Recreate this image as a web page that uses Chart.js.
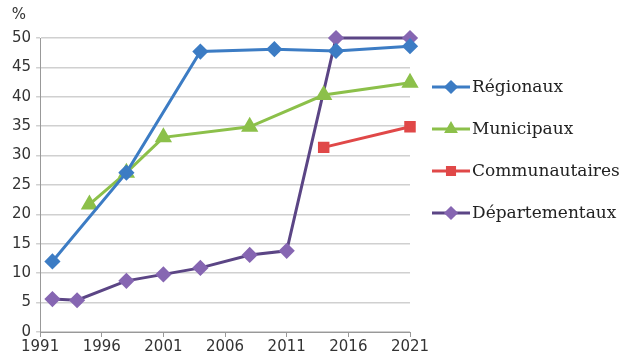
<!DOCTYPE html>
<html>
<head>
<meta charset="utf-8">
<script src="https://cdn.jsdelivr.net/npm/chart.js@4/dist/chart.umd.min.js"></script>
<style>
  html, body { margin: 0; padding: 0; background: #fff; }
  #wrap { width: 628px; height: 360px; }
</style>
</head>
<body>
<div id="wrap"><canvas id="elusChart" width="628" height="360"></canvas></div>
<script>
// values (share of women, %)
const regYears = [1992, 1998, 2004, 2010, 2015, 2021];
const regValues = [12, 27.1, 47.7, 48.1, 47.8, 48.6];

const munYears = [1995, 1998, 2001, 2008, 2014, 2021];
const munValues = [21.7, 27.1, 33.1, 34.9, 40.3, 42.4];

const comYears = [2014, 2021];
const comValues = [31.4, 34.9];

const depYears = [1992, 1994, 1998, 2001, 2004, 2008, 2011, 2015, 2021];
const depValues = [5.6, 5.4, 8.7, 9.8, 10.9, 13.1, 13.8, 50, 50];

const seriesNames = ['Régionaux', 'Municipaux', 'Communautaires', 'Départementaux'];

const pts = (xs, ys) => xs.map((x, i) => ({ x: x, y: ys[i] }));

// draws the "%" label and the right-hand legend (line + marker, serif text)
const extras = {
  id: 'extras',
  afterDraw(c) {
    const ctx = c.ctx;
    const area = c.chartArea;
    ctx.save();
    ctx.fillStyle = '#333';
    ctx.font = '15px "DejaVu Sans", sans-serif';
    ctx.textAlign = 'center';
    ctx.textBaseline = 'middle';
    ctx.fillText('%', 19, 15);

    c.data.datasets.forEach((ds, i) => {
      const y = area.top + 49 + i * 42;
      const x0 = area.right + 22;
      ctx.strokeStyle = ds.borderColor;
      ctx.lineWidth = 3;
      ctx.beginPath();
      ctx.moveTo(x0, y);
      ctx.lineTo(x0 + 38, y);
      ctx.stroke();
      ctx.fillStyle = ds.pointBackgroundColor;
      ctx.strokeStyle = ds.pointBackgroundColor;
      Chart.helpers.drawPoint(ctx, {
        pointStyle: ds.pointStyle,
        radius: 5,
        rotation: 0,
        borderWidth: 1
      }, x0 + 19, y);
      ctx.fillStyle = '#222';
      ctx.font = '17px "DejaVu Serif", "Liberation Serif", serif';
      ctx.textAlign = 'left';
      ctx.fillText(ds.label, x0 + 40, y + 1);
    });
    ctx.restore();
  }
};

function makeSet(label, xs, ys, line, fill, style, r) {
  return {
    label: label,
    data: pts(xs, ys),
    borderColor: line,
    backgroundColor: fill,
    pointBackgroundColor: fill,
    pointBorderColor: fill,
    pointStyle: style,
    pointRadius: r,
    borderWidth: 3,
    tension: 0,
    clip: false
  };
}

const chart = new Chart(document.getElementById('elusChart'), {
  type: 'line',
  data: {
    datasets: [
      makeSet(seriesNames[0], regYears, regValues, '#3c7cc4', '#3c7cc4', 'rectRot', 6),
      makeSet(seriesNames[1], munYears, munValues, '#8cc04a', '#8cc04a', 'triangle', 7),
      makeSet(seriesNames[2], comYears, comValues, '#e04848', '#e04848', 'rect', 6),
      makeSet(seriesNames[3], depYears, depValues, '#5b4585', '#8666b2', 'rectRot', 6)
    ]
  },
  options: {
    responsive: false,
    animation: false,
    layout: { padding: { top: 38, right: 218, left: 7, bottom: 3 } },
    plugins: {
      legend: { display: false },
      tooltip: { enabled: false }
    },
    scales: {
      x: {
        type: 'linear',
        min: 1991,
        max: 2021,
        ticks: {
          stepSize: 5,
          color: '#333',
          font: { family: '"DejaVu Sans", sans-serif', size: 15 },
          callback: v => String(v),
          padding: 1
        },
        grid: { display: true, drawOnChartArea: false, drawTicks: true, tickLength: 5, color: '#999' },
        border: { color: '#999', width: 1 }
      },
      y: {
        min: 0,
        max: 50,
        ticks: {
          stepSize: 5,
          color: '#333',
          font: { family: '"DejaVu Sans", sans-serif', size: 15 },
          padding: 5
        },
        grid: { color: '#d0d0d0', lineWidth: 1.5, tickLength: 4 },
        border: { color: '#999', width: 1 }
      }
    }
  },
  plugins: [extras]
});
</script>
</body>
</html>
